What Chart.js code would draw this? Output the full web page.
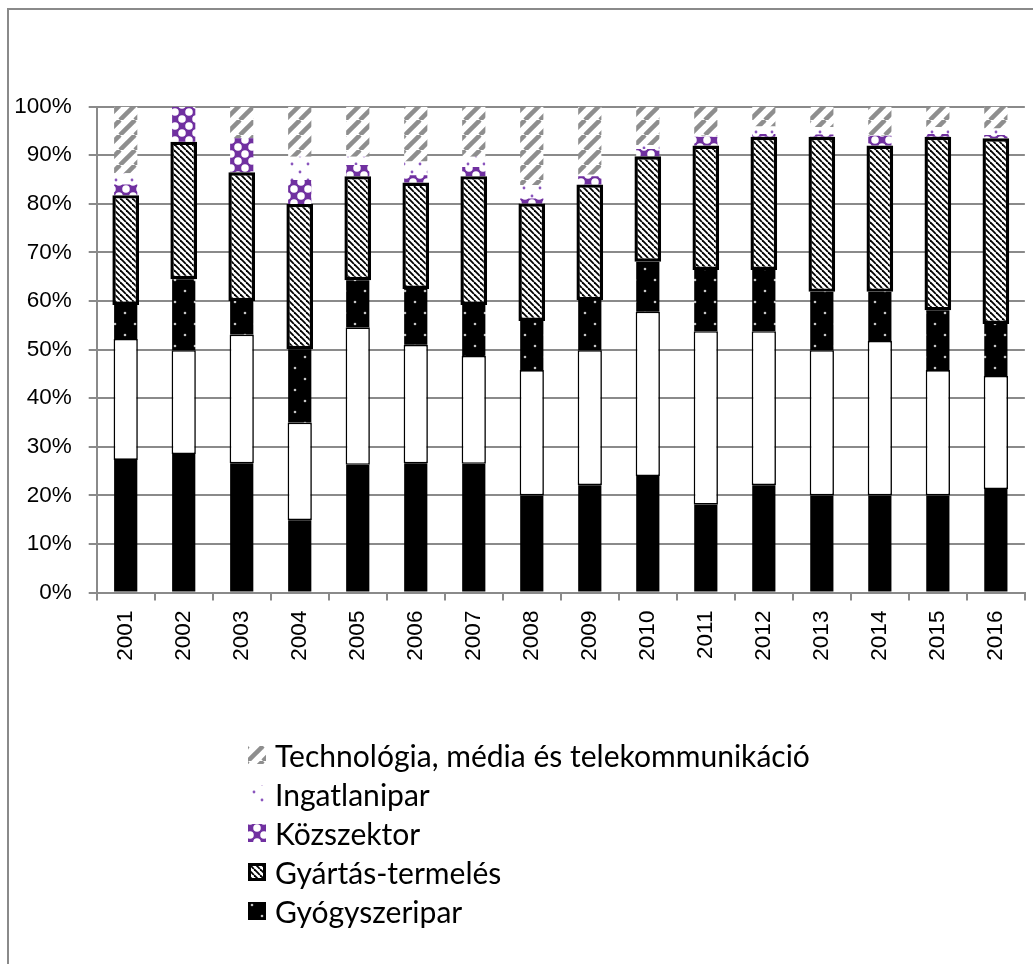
<!DOCTYPE html>
<html><head><meta charset="utf-8">
<script src="https://cdn.jsdelivr.net/npm/chart.js@4/dist/chart.umd.min.js"></script>
<style>
html,body{margin:0;padding:0;background:#fff;}
#wrap{position:relative;width:1033px;height:964px;overflow:hidden;background:#fff;}
#frame{position:absolute;left:7px;top:8px;width:1100px;height:1000px;border-left:2px solid #8a8a8a;border-top:2px solid #8a8a8a;}
#c{position:absolute;left:0;top:0;}
#legend{position:absolute;left:248px;top:735px;font-family:Lato,'Open Sans',sans-serif;color:#000;}
.row{display:flex;align-items:center;height:39.2px;white-space:nowrap;}
.row canvas{width:18px;height:18px;margin-right:9px;flex:none;}
</style></head>
<body><div id="wrap"><div id="frame"></div><canvas id="c" width="1033" height="964"></canvas><div id="legend"></div></div>
<script>
// ---- data (percent of deals per sector) ----
const years = ['2001','2002','2003','2004','2005','2006','2007','2008','2009','2010','2011','2012','2013','2014','2015','2016'];
const yTicks = [0,10,20,30,40,50,60,70,80,90,100];
const penzugy   = [27.3,28.5,26.6,14.9,26.3,26.6,26.5,20.0,22.1,24.0,18.1,22.1,20.0,20.0,20.0,21.3];
const fogyaszt  = [24.9,21.4,26.5,20.1,28.3,24.4,22.2,25.8,27.8,33.8,35.7,31.7,29.9,31.8,25.8,23.3];
const gyogyszer = [7.0,14.6,6.9,15.1,9.7,11.5,10.5,10.1,10.3,10.3,12.6,12.6,12.0,10.1,12.3,10.7];
const gyartas   = [22.6,28.3,26.5,29.9,21.4,21.9,26.5,24.2,23.8,21.7,25.6,27.4,31.9,30.1,35.7,38.2];
const kozszektor= [2.2,7.2,7.0,4.9,2.3,1.5,1.9,1.0,1.7,1.5,1.8,0.6,0.5,2.0,0.6,0.7];
const ingatlan  = [2.3,0,0,4.8,1.7,2.8,2.1,2.8,0.3,0.8,0.2,1.5,1.5,0,1.4,1.3];
const tech      = [13.7,0,6.5,10.3,10.3,11.3,10.3,16.1,14.0,7.9,6.0,4.1,4.2,6.0,4.2,4.5];
const seriesNames = ['Pénzügyi szolgáltatások','Fogyasztási cikkek','Gyógyszeripar','Gyártás-termelés','Közszektor','Ingatlanipar','Technológia, média és telekommunikáció'];

// ---- pattern tiles ----
function tile(w,h,draw){const c=document.createElement('canvas');c.width=w;c.height=h;draw(c.getContext('2d'),w,h);return c;}
const tiles = {
  dots: tile(20,22,(x,w,h)=>{x.fillStyle='#000';x.fillRect(0,0,w,h);x.fillStyle='#c4c4c4';
    [[5,5],[15,16]].forEach(p=>{x.beginPath();x.arc(p[0],p[1],1.3,0,Math.PI*2);x.fill();});}),
  hatch: tile(6,6,(x,w,h)=>{x.fillStyle='#fff';x.fillRect(0,0,w,h);x.strokeStyle='#000';x.lineWidth=1.8;
    [-w,0,w].forEach(k=>{x.beginPath();x.moveTo(k,0);x.lineTo(k+w,h);x.stroke();});}),
  purple: tile(14,14,(x,w,h)=>{x.fillStyle='#7030a0';x.fillRect(0,0,w,h);x.fillStyle='#fff';
    [[w/2,0],[w/2,h],[0,h/2],[w,h/2]].forEach(p=>{x.beginPath();x.arc(p[0],p[1],w*0.27,0,Math.PI*2);x.fill();});}),
  pdots: tile(16,16,(x,w,h)=>{x.fillStyle='#fff';x.fillRect(0,0,w,h);x.fillStyle='#8a55bd';
    [[4,4],[12,12]].forEach(p=>{x.beginPath();x.arc(p[0],p[1],1.4,0,Math.PI*2);x.fill();});}),
  stripes: tile(15,15,(x,w,h)=>{x.fillStyle='#fff';x.fillRect(0,0,w,h);x.strokeStyle='#8e8e8e';x.lineWidth=4.5;
    [-w,0,w].forEach(k=>{x.beginPath();x.moveTo(k,h);x.lineTo(k+w,0);x.stroke();});})
};
const cv = document.getElementById('c');
const ctx = cv.getContext('2d');
const P = k => ctx.createPattern(tiles[k],'repeat');

const base = {stack:'s', barPercentage:0.4, categoryPercentage:1, borderWidth:0, borderSkipped:false};
const datasets = [
  Object.assign({}, base, {label:seriesNames[0], data:penzugy, backgroundColor:'#000'}),
  Object.assign({}, base, {label:seriesNames[1], data:fogyaszt, backgroundColor:'#fff', borderColor:'#000', borderWidth:1.6, barPercentage:0.418}),
  Object.assign({}, base, {label:seriesNames[2], data:gyogyszer, backgroundColor:P('dots')}),
  Object.assign({}, base, {label:seriesNames[3], data:gyartas, backgroundColor:P('hatch'), borderColor:'#000', borderWidth:3.4, barPercentage:0.46}),
  Object.assign({}, base, {label:seriesNames[4], data:kozszektor, backgroundColor:P('purple')}),
  Object.assign({}, base, {label:seriesNames[5], data:ingatlan, backgroundColor:P('pdots')}),
  Object.assign({}, base, {label:seriesNames[6], data:tech, backgroundColor:P('stripes')})
];

const axisFont = {family:"'Liberation Sans', Arial, sans-serif", size:22.5};
const gray = '#8a8a8a';
new Chart(cv, {
  type:'bar',
  data:{labels:years, datasets},
  options:{
    responsive:false, animation:false,
    layout:{padding:{top:106.7,right:4.5,bottom:291.4,left:0}},
    plugins:{legend:{display:false}, tooltip:{enabled:false}},
    scales:{
      x:{stacked:true, offset:true,
        grid:{display:true, drawOnChartArea:false, drawTicks:true, tickLength:8, color:gray, lineWidth:2, offset:true},
        border:{display:true, color:gray, width:2},
        ticks:{autoSkip:false, minRotation:90, maxRotation:90, font:axisFont, color:'#000', padding:10},
        afterFit:s=>{s.height=80;}
      },
      y:{stacked:true, min:0, max:100,
        afterBuildTicks:s=>{s.ticks = yTicks.map(v=>({value:v}));},
        grid:{color:gray, lineWidth:2, tickLength:8, drawTicks:true},
        border:{display:true, color:gray, width:2},
        ticks:{callback:v=>v+'%', font:axisFont, color:'#000', padding:17},
        afterFit:s=>{s.width=96.7;}
      }
    }
  }
});

// ---- legend (HTML, vertical list as in the original) ----
const legendItems = [
  {name:seriesNames[6], tile:'stripes'},
  {name:seriesNames[5], tile:'pdots', shift:[2,3]},
  {name:seriesNames[4], tile:'purple', shift:[2,4]},
  {name:seriesNames[3], tile:'hatch', border:true},
  {name:seriesNames[2], tile:'dots', shift:[-1,-2]}
];
const mctx = document.createElement('canvas').getContext('2d');
mctx.font = "100px Lato, 'Open Sans', sans-serif";
const fs = 100*535/mctx.measureText(seriesNames[6]).width;
const lg = document.getElementById('legend');
lg.style.fontSize = fs.toFixed(2)+'px';
legendItems.forEach(it=>{
  const row=document.createElement('div');row.className='row';
  const sw=document.createElement('canvas');sw.width=18;sw.height=18;
  const sx=sw.getContext('2d');
  sx.save(); if(it.shift) sx.translate(it.shift[0],it.shift[1]);
  sx.fillStyle=sx.createPattern(tiles[it.tile],'repeat');sx.fillRect(-20,-20,60,60);sx.restore();
  if(it.border){sx.strokeStyle='#000';sx.lineWidth=3;sx.strokeRect(1.5,1.5,15,15);}
  const t=document.createElement('span');t.textContent=it.name;
  row.appendChild(sw);row.appendChild(t);lg.appendChild(row);
});
</script>
</body></html>
